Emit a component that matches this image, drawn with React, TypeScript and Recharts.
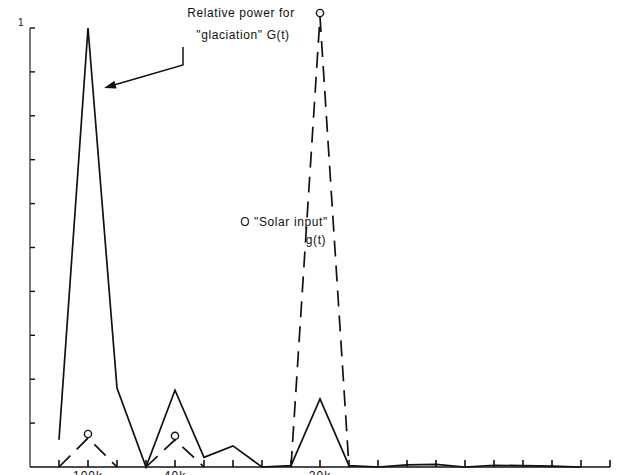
import { LineChart, Line, XAxis, YAxis, ReferenceLine } from "recharts";

// frequency index along the x axis (equal steps in frequency)
const STEPS = [0, 1, 2, 3, 4, 5, 6, 7, 8, 9, 10, 11, 12, 13, 14, 15, 16, 17, 18, 19, 20];
// relative power for "glaciation" G(t)
const GLACIATION = [null, 0.062, 1.0, 0.18, 0, 0.175, 0.022, 0.048, 0, 0.003, 0.155, 0.003, 0, 0.005, 0.006, 0, 0.004, 0.003, 0.002, 0, null];
// "solar input" g(t), split in two dashed pieces
const SOLAR_A = [null, 0, 0.066, 0, null, null, null, null, null, null, null, null, null, null, null, null, null, null, null, null, null];
const SOLAR_B = [null, null, null, null, 0, 0.062, 0, null, null, 0, 1.025, 0, null, null, null, null, null, null, null, null, null];

const Y_TICKS = [0.1, 0.2, 0.3, 0.4, 0.5, 0.6, 0.7, 0.8, 0.9, 1];
const X_TICKS = STEPS.slice(1);
const LABEL_AT = [2, 5, 10];
const LABEL_TEXT = ["100k", "40k", "20k"];

const data = STEPS.map((s, i) => ({
  step: s,
  G: GLACIATION[i],
  ga: SOLAR_A[i],
  gb: SOLAR_B[i],
}));

const FONT = "'Liberation Sans', Arial, sans-serif";

function YTick(p: any) {
  const { x, y, payload } = p;
  return (
    <g>
      <line x1={x} y1={y} x2={x + 5} y2={y} stroke="#111" strokeWidth={1.4} />
      {payload.value === 1 && (
        <text x={x - 12} y={y - 2} fontSize={10} fontFamily={FONT} fill="#111">1</text>
      )}
    </g>
  );
}

function XTick(p: any) {
  const { x, y, payload } = p;
  const k = LABEL_AT.indexOf(payload.value);
  return (
    <g>
      <rect x={x - 0.8} y={y - 7} width={1.6} height={7} fill="#111" />
      {k >= 0 && (
        <text x={x} y={y + 13} textAnchor="middle" fontSize={12} fontFamily={FONT} letterSpacing={1} fill="#111">
          {LABEL_TEXT[k]}
        </text>
      )}
    </g>
  );
}

function PeakDot(p: any) {
  const { cx, cy, value, index } = p;
  if (value == null || value < 0.03) return <g key={index} />;
  return <circle key={index} cx={cx} cy={cy - 4} r={3.6} fill="#fff" stroke="#111" strokeWidth={1.4} />;
}

function Notes() {
  return (
    <g fontFamily={FONT} fontSize={12} fill="#111" letterSpacing={0.6}>
      <text x={241} y={17} textAnchor="middle">Relative power for</text>
      <text x={243} y={39} textAnchor="middle">"glaciation"  G(t)</text>
      <polyline points="183,47 183,65 114,85" fill="none" stroke="#111" strokeWidth={1.5} />
      <polygon points="104,88 116.6,88.4 114.4,80.8" fill="#111" />
      <text x={284} y={226} textAnchor="middle">O  "Solar input"</text>
      <text x={316} y={244} textAnchor="middle">g(t)</text>
    </g>
  );
}

export default function App() {
  return (
    <div style={{ position: "absolute", left: 0, top: 0, width: 633, height: 475, overflow: "hidden", background: "#fff" }}>
      <LineChart width={633} height={490} data={data} margin={{ top: 17, right: 23, left: 0, bottom: 0 }}>
        <XAxis
          dataKey="step"
          type="number"
          domain={[0, 20]}
          ticks={X_TICKS}
          interval={0}
          height={23}
          tickSize={0}
          tickMargin={0}
          tickLine={false}
          axisLine={{ stroke: "#111", strokeWidth: 1.6 }}
          tick={XTick}
        />
        <YAxis
          type="number"
          domain={[0, "dataMax"]}
          ticks={Y_TICKS}
          width={30}
          tickSize={0}
          tickMargin={0}
          tickLine={false}
          axisLine={false}
          tick={YTick}
        />
        <ReferenceLine segment={[{ x: 0, y: 0 }, { x: 0, y: 1 }]} stroke="#333" strokeWidth={1.3} />
        <Line dataKey="G" type="linear" stroke="#111" strokeWidth={1.7} dot={false} connectNulls={false} isAnimationActive={false} />
        <Line dataKey="ga" type="linear" stroke="#111" strokeWidth={1.7} strokeDasharray="16 9" dot={PeakDot} connectNulls={false} isAnimationActive={false} />
        <Line dataKey="gb" type="linear" stroke="#111" strokeWidth={1.7} strokeDasharray="16 9" dot={PeakDot} connectNulls={false} isAnimationActive={false} />
        <Notes />
      </LineChart>
    </div>
  );
}
